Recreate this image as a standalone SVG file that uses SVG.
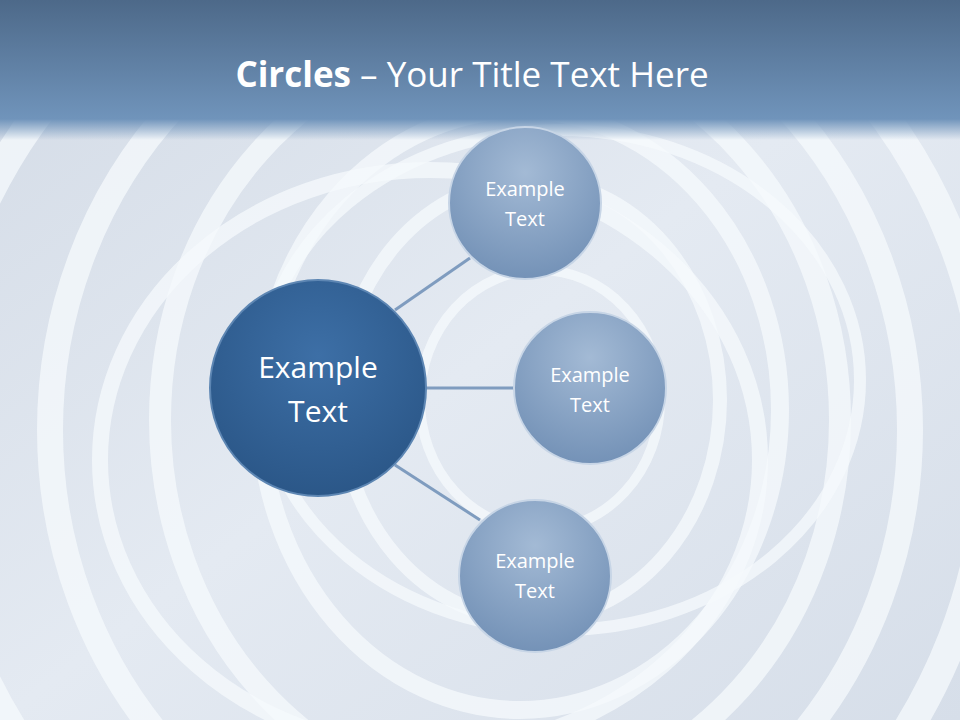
<svg xmlns="http://www.w3.org/2000/svg" width="960" height="720" viewBox="0 0 960 720">
<defs>
<linearGradient id="bg" x1="0" y1="0" x2="1" y2="1"><stop offset="0" stop-color="#d3dbe6"/><stop offset="0.5" stop-color="#e4eaf2"/><stop offset="1" stop-color="#d6dee9"/></linearGradient>
<linearGradient id="band" x1="0" y1="0" x2="0" y2="1"><stop offset="0" stop-color="#4d6989"/><stop offset="0.85" stop-color="#7094bb"/><stop offset="1" stop-color="#7094bb" stop-opacity="0"/></linearGradient>
<radialGradient id="big" cx="0.5" cy="0.35" r="0.65"><stop offset="0" stop-color="#3d6fa6"/><stop offset="1" stop-color="#2b5788"/></radialGradient>
<radialGradient id="small" cx="0.5" cy="0.3" r="0.7"><stop offset="0" stop-color="#a3bad5"/><stop offset="1" stop-color="#7492b7"/></radialGradient>
</defs>
<style>
.ring{fill:none;stroke:#f6f9fc;stroke-opacity:0.75}
.c{stroke:#7f9cbf;stroke-width:3}
.t{font-family:"Open Sans","Liberation Sans",sans-serif;fill:#fff;text-anchor:middle}
.s{stroke:#c7d5e6;stroke-width:2}
</style>
<rect width="960" height="720" fill="url(#bg)"/>
<g>
<ellipse class="ring" cx="540" cy="400" rx="120" ry="130" stroke-width="10"/>
<ellipse class="ring" cx="530" cy="400" rx="190" ry="220" stroke-width="14"/>
<ellipse class="ring" cx="520" cy="410" rx="260" ry="300" stroke-width="18"/>
<ellipse class="ring" cx="500" cy="420" rx="340" ry="380" stroke-width="22"/>
<ellipse class="ring" cx="480" cy="430" rx="430" ry="460" stroke-width="26"/>
<ellipse class="ring" cx="460" cy="440" rx="530" ry="540" stroke-width="30"/>
<ellipse class="ring" cx="560" cy="380" rx="300" ry="250" stroke-width="12"/>
<ellipse class="ring" cx="430" cy="460" rx="330" ry="290" stroke-width="16"/>
</g>
<rect width="960" height="140" fill="url(#band)"/>
<text x="472" y="87" class="t" font-size="35"><tspan font-weight="bold">Circles</tspan> – Your Title Text Here</text>
<g id="connectors">
<line class="c" x1="395" y1="310" x2="470" y2="258"/>
<line class="c" x1="426" y1="388" x2="514" y2="388"/>
<line class="c" x1="395" y1="465" x2="480" y2="520"/>
</g>
<g id="center">
<circle cx="318" cy="388" r="108" fill="url(#big)" stroke="#5d86b3" stroke-width="2"/>
<text class="t" x="318" y="378" font-size="30">Example</text>
<text class="t" x="318" y="422" font-size="30">Text</text>
</g>
<g id="n1">
<circle class="s" cx="525" cy="203" r="76" fill="url(#small)"/>
<text class="t" x="525" y="196" font-size="20">Example</text>
<text class="t" x="525" y="226" font-size="20">Text</text>
</g>
<g id="n2">
<circle class="s" cx="590" cy="388" r="76" fill="url(#small)"/>
<text class="t" x="590" y="382" font-size="20">Example</text>
<text class="t" x="590" y="412" font-size="20">Text</text>
</g>
<g id="n3">
<circle class="s" cx="535" cy="576" r="76" fill="url(#small)"/>
<text class="t" x="535" y="568" font-size="20">Example</text>
<text class="t" x="535" y="598" font-size="20">Text</text>
</g>
</svg>
